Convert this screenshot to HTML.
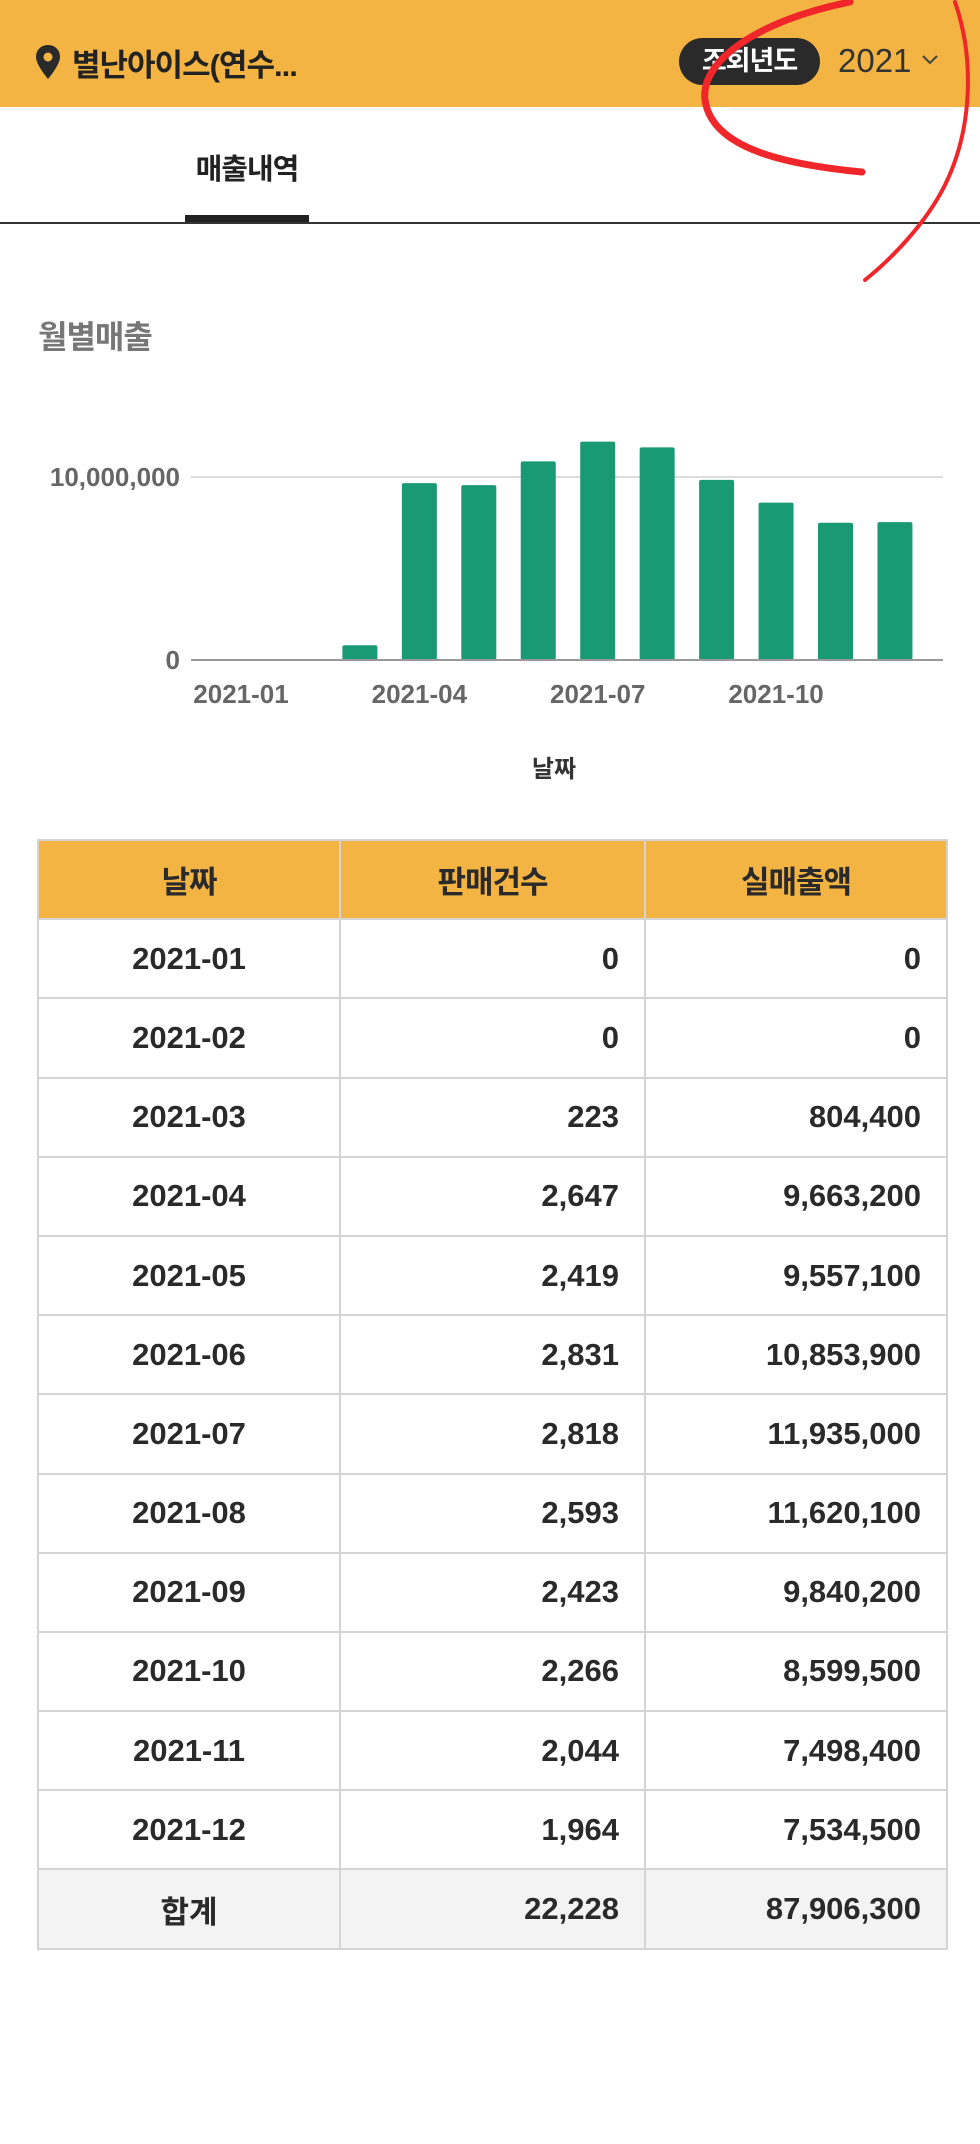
<!DOCTYPE html>
<html><head><meta charset="utf-8">
<style>
*{margin:0;padding:0;box-sizing:border-box}
body{width:980px;height:2144px;background:#fff;position:relative;overflow:hidden;font-family:"Liberation Sans","Noto Sans CJK KR",sans-serif;color:#222}
.abs{position:absolute}
#header{left:0;top:0;width:980px;height:107px;background:#f3b443}
#store{left:72px;top:40px;font-size:31px;font-weight:bold;color:#222;letter-spacing:-1px}
#pill{left:679px;top:38px;width:141px;height:47px;border-radius:24px;background:#2a2a2a;color:#fff;font-size:27px;font-weight:bold;text-align:center;line-height:47px;letter-spacing:-1px}
#year{left:838px;top:42px;font-size:33px;color:#333}
#tab{left:185px;top:146px;width:124px;text-align:center;font-size:29px;font-weight:bold;letter-spacing:-1px}
#tabline{left:185px;top:215px;width:124px;height:8px;background:#222}
#hr{left:0;top:222px;width:980px;height:2px;background:#333}
#title{left:38px;top:312px;font-size:32px;font-weight:bold;color:#777;letter-spacing:-1px}
table{position:absolute;left:37px;top:839px;width:909px;border-collapse:collapse;table-layout:fixed}
td,th{border:2px solid #d4d4d4;height:79.2px;font-size:31px;font-weight:bold;color:#2a2a2a}
th{background:#f3b443;text-align:center;letter-spacing:-1px}
td{text-align:right;padding-right:25px}
td.c{text-align:center;padding:0}
tr.total td{background:#f3f3f3}
</style></head><body>
<div id="header" class="abs">
  <svg class="abs" style="left:36px;top:45px" width="24" height="34" viewBox="0 0 24 34"><path d="M12 0C5 0 0 5 0 12c0 8 12 22 12 22s12-14 12-22C24 5 19 0 12 0z" fill="#2a2a2a"/><circle cx="12" cy="12" r="4.5" fill="#f3b443"/></svg>
  <div id="store" class="abs">별난아이스(연수...</div>
  <div id="pill" class="abs">조회년도</div>
  <div id="year" class="abs">2021</div>
  <svg class="abs" style="left:922px;top:54px" width="16" height="12"><path d="M1 2 L8 9 L15 2" stroke="#444" stroke-width="2" fill="none"/></svg>
</div>
<div id="tab" class="abs">매출내역</div>
<div id="tabline" class="abs"></div>
<div id="hr" class="abs"></div>
<div id="title" class="abs">월별매출</div>

<svg id="chart" class="abs" style="left:0;top:400px" width="980" height="400"></svg>

<svg class="abs" style="left:0;top:0;pointer-events:none" width="980" height="290">
<path d="M850 2 C760 20 700 60 705 100 C712 150 790 165 862 172" stroke="#f0262a" stroke-width="7" fill="none" stroke-linecap="round"/>
<path d="M955 2 C975 60 972 130 945 185 C925 225 890 260 865 280" stroke="#f0262a" stroke-width="4" fill="none" stroke-linecap="round"/>
</svg>

<table>
<colgroup><col style="width:302px"><col style="width:305px"><col style="width:302px"></colgroup>
<thead><tr><th>날짜</th><th>판매건수</th><th>실매출액</th></tr></thead>
<tbody id="tbody"></tbody>
</table>

<script>
const months = ["2021-01","2021-02","2021-03","2021-04","2021-05","2021-06","2021-07","2021-08","2021-09","2021-10","2021-11","2021-12"];
const sales = [0,0,804400,9663200,9557100,10853900,11935000,11620100,9840200,8599500,7498400,7534500];
const counts = [0,0,223,2647,2419,2831,2818,2593,2423,2266,2044,1964];
const yTicks = [0,10000000];
const xTickLabels = ["2021-01","2021-04","2021-07","2021-10"];

const NS="http://www.w3.org/2000/svg";
const svg=document.getElementById('chart');
const x0=191,x1=943,yBase=260,yScale=183/10000000,firstC=241,step=59.45,bw=35;
function xC(i){return firstC+i*step;}
function yV(v){return yBase-v*yScale;}
function mk(tag,attrs,txt){const e=document.createElementNS(NS,tag);for(const k in attrs)e.setAttribute(k,attrs[k]);if(txt!=null)e.textContent=txt;svg.appendChild(e);return e;}
yTicks.forEach(t=>{
  if(t>0){const g=mk('line',{x1:x0,x2:x1,y1:yV(t),y2:yV(t),stroke:'#dcdcdc','stroke-width':2});
  
  }
  const l=mk('text',{x:180,y:yV(t)+9,'text-anchor':'end','font-size':26,'font-weight':'bold',fill:'#666','font-family':'Liberation Sans, sans-serif'},t.toLocaleString('en-US'));
  
  
});
sales.forEach((v,i)=>{
  const h=v*yScale;
  const r=mk('rect',{x:xC(i)-bw/2,y:yBase-h,width:bw,height:h,fill:'#1a9a74',rx:2});
  
  
});
const ax=mk('line',{x1:x0,x2:x1,y1:yBase,y2:yBase,stroke:'#999','stroke-width':2});


xTickLabels.forEach(lab=>{
  const i=months.indexOf(lab);
  const t=mk('text',{x:xC(i),y:303,'text-anchor':'middle','font-size':26,'font-weight':'bold',fill:'#666','font-family':'Liberation Sans, sans-serif'},lab);
  
  
});
const at=mk('text',{x:554,y:377,'text-anchor':'middle','font-size':24,'font-weight':'bold',fill:'#333','font-family':'Liberation Sans, Noto Sans CJK KR, sans-serif'},'날짜');



const tb=document.getElementById('tbody');
function addRow(a,b,c,total){
  const tr=document.createElement('tr');
  
  
  if(total)tr.className='total';
  [a,b,c].forEach((v,j)=>{const td=document.createElement('td');td.textContent=v;if(j==0)td.className='c';
    
    
    tr.appendChild(td);});
  tb.appendChild(tr);
}
months.forEach((m,i)=>addRow(m,counts[i].toLocaleString('en-US'),sales[i].toLocaleString('en-US'),false));
addRow('합계',counts.reduce((a,b)=>a+b,0).toLocaleString('en-US'),sales.reduce((a,b)=>a+b,0).toLocaleString('en-US'),true);
</script>
</body></html>
